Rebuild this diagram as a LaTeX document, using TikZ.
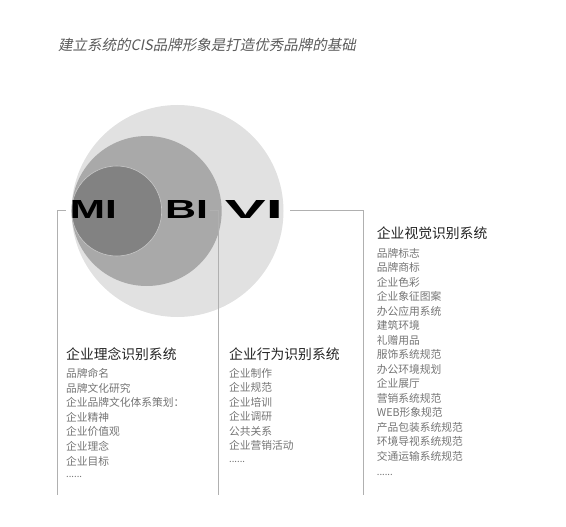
\documentclass[tikz,border=0pt]{standalone}
\usepackage{fontspec}
\usepackage{graphicx}
\setmainfont{Noto Sans CJK SC}
\newfontfamily\slantcjk[FakeSlant=0.2]{Noto Sans CJK SC}
\newfontfamily\letterfont{Liberation Sans}
\definecolor{lightc}{HTML}{E1E1E1}
\definecolor{midc}{HTML}{A9A9A9}
\definecolor{darkc}{HTML}{828282}
\definecolor{linec}{HTML}{B0B0B0}
\definecolor{itemc}{HTML}{747474}
\definecolor{headc}{HTML}{222222}
\definecolor{titlec}{HTML}{5A5A5A}
\tikzset{
  disc/.style={circle, inner sep=0pt, draw=none},
  letters/.style={inner sep=0pt, font=\letterfont\bfseries, text=black},
  heading/.style={anchor=base west, inner sep=0pt, text=headc, font=\fontsize{13.8}{16}\selectfont},
  item/.style={anchor=base west, inner sep=0pt, text=itemc, font=\fontsize{10.75}{13}\selectfont},
  dots/.style={anchor=base west, inner sep=0pt, text=itemc, font=\fontsize{9.5}{11}\selectfont},
  leader/.style={draw=linec, line width=0.8pt},
}
\begin{document}
\begin{tikzpicture}[x=1pt, y=-1pt]
\useasboundingbox (0,0) rectangle (566,527);
% title
\node[anchor=base west, inner sep=0pt, text=titlec, font=\slantcjk\fontsize{14.5}{17}\selectfont] (title) at (58,50.5) {建立系统的CIS品牌形象是打造优秀品牌的基础};
% circles
\node[disc, fill=lightc, minimum size=212pt] (vc) at (177.5,211) {};
\node[disc, fill=midc, minimum size=150pt] (bc) at (146.7,211) {};
\node[disc, fill=darkc, draw=white!55!darkc, line width=0.6pt, minimum size=90pt] (mc) at (116.7,211) {};
% letters
\node[letters] (mi) at (93.3,209) {\resizebox{47pt}{18pt}{MI}};
\node[letters] (bi) at (186.5,209) {\resizebox{43pt}{18pt}{BI}};
\node[letters] (vi) at (254,209) {\resizebox{58pt}{18pt}{VI}};
% leader ends
\coordinate (miend) at (57.3,495);
\coordinate (biend) at (218.5,495);
\coordinate (viend) at (363,495);
\draw[leader] ([xshift=-4pt,yshift=-1pt]mi.west) -| (miend);
\draw[leader] ([xshift=2pt,yshift=-1pt]bi.east) -| (biend);
\draw[leader] ([xshift=7pt,yshift=-1pt]vi.east) -| (viend);
% MI column
\node[heading] (mihead) at (66,359.2) {企业理念识别系统};
\foreach \t [count=\i] in {品牌命名,品牌文化研究,企业品牌文化体系策划：,企业精神,企业价值观,企业理念,企业目标}
  \node[item] (mi-\i) at (66,{377.4+14.6*(\i-1)}) {\t};
\node[dots] (midots) at (66,477.5) {......};
% BI column
\node[heading] (bihead) at (229,359.2) {企业行为识别系统};
\foreach \t [count=\i] in {企业制作,企业规范,企业培训,企业调研,公共关系,企业营销活动}
  \node[item] (bi-\i) at (229,{377.1+14.5*(\i-1)}) {\t};
\node[dots] (bidots) at (229,462.5) {......};
% VI column
\node[heading] (vihead) at (376.7,238.5) {企业视觉识别系统};
\foreach \t [count=\i] in {品牌标志,品牌商标,企业色彩,企业象征图案,办公应用系统,建筑环境,礼赠用品,服饰系统规范,办公环境规划,企业展厅,营销系统规范,WEB形象规范,产品包装系统规范,环境导视系统规范,交通运输系统规范}
  \node[item] (vi-\i) at (376.7,{257.4+14.5*(\i-1)}) {\t};
\node[dots] (vidots) at (376.7,475) {......};
\end{tikzpicture}
\end{document}
